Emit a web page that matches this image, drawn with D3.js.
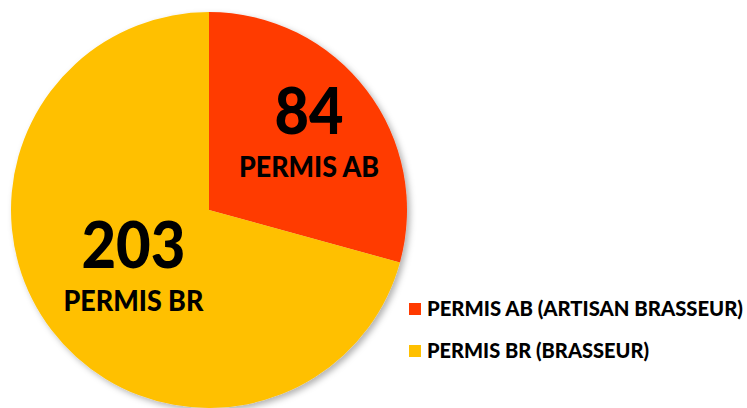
<!DOCTYPE html>
<html>
<head>
<meta charset="utf-8">
<script src="https://cdn.jsdelivr.net/npm/d3@7"></script>
<style>
  body { margin: 0; background: #fff; }
  text { font-family: "Lato", "Open Sans", sans-serif; font-weight: 900; fill: #000; }
</style>
</head>
<body>
<div id="chart"></div>
<script>
// données du graphique
var categories = ["PERMIS AB", "PERMIS BR"];
var legendLabels = ["PERMIS AB (ARTISAN BRASSEUR)", "PERMIS BR (BRASSEUR)"];
var values = [84, 203];
var colors = ["#FF3A00", "#FFC000"];

var width = 747, height = 408;
var cx = 209, cy = 210, radius = 198;

var svg = d3.select("#chart").append("svg")
    .attr("width", width)
    .attr("height", height);

// ombre légère sous le camembert
var defs = svg.append("defs");
defs.append("filter").attr("id", "ombre")
    .attr("x", "-10%").attr("y", "-10%").attr("width", "120%").attr("height", "120%")
  .append("feDropShadow")
    .attr("dx", 3).attr("dy", 3).attr("stdDeviation", 3)
    .attr("flood-color", "#000").attr("flood-opacity", 0.3);

var pie = d3.pie().sort(null).value(function(d) { return d; });
var arcs = pie(values);

var arc = d3.arc().innerRadius(0).outerRadius(radius);

var g = svg.append("g").attr("transform", "translate(" + cx + "," + cy + ")");

g.append("g").attr("filter", "url(#ombre)")
  .selectAll("path")
  .data(arcs)
  .enter().append("path")
    .attr("d", arc)
    .attr("fill", function(d, i) { return colors[i]; });

// position des étiquettes (rayon différent pour chaque part)
var labelArcs = [
    d3.arc().innerRadius(0).outerRadius(radius * 1.27),
    d3.arc().innerRadius(0).outerRadius(radius * 0.96)
];
var numWidth = [69, 104];

var lab = g.selectAll(".lab")
    .data(arcs)
    .enter().append("g")
    .attr("class", "lab")
    .attr("transform", function(d, i) {
        var c = labelArcs[i].centroid(d);
        return "translate(" + c[0] + "," + c[1] + ")";
    });

lab.append("text")
    .attr("text-anchor", "middle")
    .attr("y", 0)
    .attr("textLength", function(d, i) { return numWidth[i]; })
    .attr("lengthAdjust", "spacingAndGlyphs")
    .style("font-size", "64px")
    .text(function(d) { return d.data; });

lab.append("text")
    .attr("text-anchor", "middle")
    .attr("y", 43)
    .attr("textLength", 140)
    .attr("lengthAdjust", "spacingAndGlyphs")
    .style("font-size", "28px")
    .text(function(d, i) { return categories[i]; });

// légende
var legendWidth = [316, 222];
var legend = svg.append("g").attr("transform", "translate(409,303)");
var item = legend.selectAll("g")
    .data(legendLabels)
    .enter().append("g")
    .attr("transform", function(d, i) { return "translate(0," + (i * 42) + ")"; });

item.append("rect")
    .attr("width", 12).attr("height", 12)
    .attr("fill", function(d, i) { return colors[i]; });

item.append("text")
    .attr("x", 18)
    .attr("y", 12.5)
    .attr("textLength", function(d, i) { return legendWidth[i]; })
    .attr("lengthAdjust", "spacingAndGlyphs")
    .style("font-size", "20px")
    .text(function(d) { return d; });
</script>
</body>
</html>
